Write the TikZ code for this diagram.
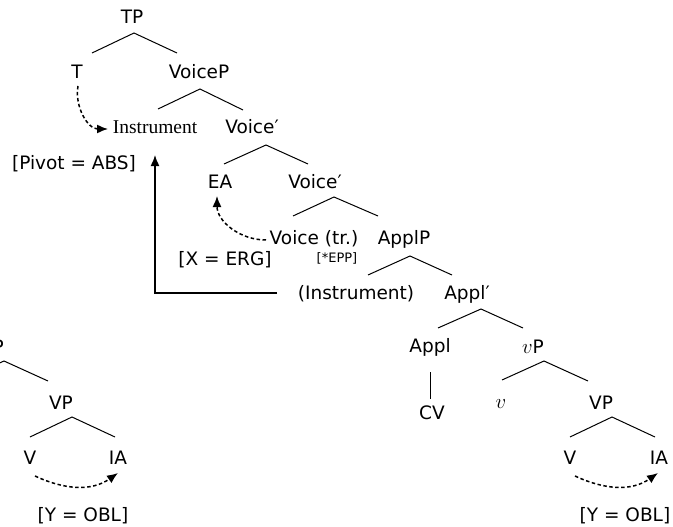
\documentclass[tikz,border=0pt]{standalone}
\usepackage{fontspec}
\setmainfont{DejaVu Sans}
\newfontfamily\serifA{Liberation Serif}
\usetikzlibrary{arrows.meta}
\begin{document}
\begin{tikzpicture}[x=1pt,y=-1pt,
  lab/.style={anchor=base,inner sep=0pt,font=\fontsize{18.5}{20}\selectfont},
  smalllab/.style={anchor=base,inner sep=0pt,font=\fontsize{13}{14}\selectfont},
  serlab/.style={anchor=base,inner sep=0pt,font=\serifA\fontsize{19.5}{22}\selectfont},
  br/.style={line width=1pt},
  dasharrow/.style={line width=1.5pt,dash pattern=on 3.5pt off 2.5pt,-{Latex[length=11pt,width=9pt]}},
  solidarrow/.style={line width=1.5pt,-{Latex[length=11pt,width=9pt]}}]
\useasboundingbox (0,0) rectangle (673,527);
\clip (0,0) rectangle (673,527);
\newcommand{\mv}{{\fontsize{20.74}{24}\selectfont$v$}}
% nodes
\node[lab] (TP) at (132,23.5) {TP};
\node[lab] (T) at (77,78.5) {T};
\node[lab] (VoiceP) at (199,78.5) {VoiceP};
\node[serlab] (Inst) at (155,133) {Instrument};
\node[lab] (Vbar1) at (252,133.5) {Voice′};
\node[lab] (Pivot) at (74,169.5) {[Pivot = ABS]};
\node[lab] (EA) at (220,188.5) {EA};
\node[lab] (Vbar2) at (315,188.5) {Voice′};
\node[lab] (Vtr) at (314,244.5) {Voice (tr.)};
\node[lab] (ApplP) at (404,244.5) {ApplP};
\node[lab] (XERG) at (225,265) {[X = ERG]};
\node[smalllab] (EPP) at (337,262) {[*EPP]};
\node[lab] (Inst2) at (356,299) {(Instrument)};
\node[lab] (Applbar) at (467,299.5) {Appl′};
\node[lab] (Appl) at (430,352.5) {Appl};
\node[lab] (vP) at (533,353.5) {\mv P};
\node[lab] (CV) at (432,419.5) {CV};
\node[lab] (v) at (501,408) {\mv};
\node[lab] (VP) at (601,409.5) {VP};
\node[lab] (V) at (570,464.5) {V};
\node[lab] (IA) at (659,464.5) {IA};
\node[lab] (OBL) at (625,521.5) {[Y = OBL]};
% left, cropped copy
\node[lab] (LvP) at (-7,353.5) {\mv P};
\node[lab] (LVP) at (61,409.5) {VP};
\node[lab] (LV) at (30,464.5) {V};
\node[lab] (LIA) at (118,464.5) {IA};
\node[lab] (LOBL) at (83,521.5) {[Y = OBL]};
% branch coordinates
\coordinate (aTP) at (134,33);   \coordinate (lTP) at (92,53);   \coordinate (rTP) at (177,53);
\coordinate (aVoP) at (200,89);  \coordinate (lVoP) at (158,109); \coordinate (rVoP) at (243,110);
\coordinate (aVb1) at (266,145); \coordinate (lVb1) at (224,164); \coordinate (rVb1) at (308,164);
\coordinate (aVb2) at (334,197); \coordinate (lVb2) at (293,216); \coordinate (rVb2) at (378,216);
\coordinate (aApP) at (410,256); \coordinate (lApP) at (368,275); \coordinate (rApP) at (452,275);
\coordinate (aApb) at (481,309); \coordinate (lApb) at (438,328); \coordinate (rApb) at (523,328);
\coordinate (aCV) at (430,372);  \coordinate (bCV) at (430,399);
\coordinate (avP) at (544,361);  \coordinate (lvP) at (502,380); \coordinate (rvP) at (588,381);
\coordinate (aVP) at (612,417);  \coordinate (lVP) at (570,437); \coordinate (rVP) at (655,437);
\coordinate (aLvP) at (4,361);   \coordinate (lLvP) at (-38,380); \coordinate (rLvP) at (48,381);
\coordinate (aLVP) at (72,417);  \coordinate (lLVP) at (30,437); \coordinate (rLVP) at (115,437);
\foreach \n in {TP,VoP,Vb1,Vb2,ApP,Apb,vP,VP,LvP,LVP}{
  \draw[br] (l\n) -- (a\n) -- (r\n);
}
\draw[br] (aCV) -- (bCV);
% arrows
\coordinate (upS) at (277,293); \coordinate (upT) at (155,155);
\draw[solidarrow] (upS) -| (upT);
\coordinate (d1s) at (78,86);   \coordinate (d1e) at (108,129);
\draw[dasharrow] (d1s) to[out=-100,in=180] (d1e);
\coordinate (d2s) at (266,240); \coordinate (d2e) at (217,196);
\draw[dasharrow] (d2s) to[out=180,in=-90] (d2e);
\coordinate (d3s) at (575,476); \coordinate (d3e) at (658,473);
\draw[dasharrow] (d3s) to[out=-25,in=-145] (d3e);
\coordinate (d4s) at (35,476);  \coordinate (d4e) at (118,473);
\draw[dasharrow] (d4s) to[out=-25,in=-145] (d4e);
\end{tikzpicture}
\end{document}
